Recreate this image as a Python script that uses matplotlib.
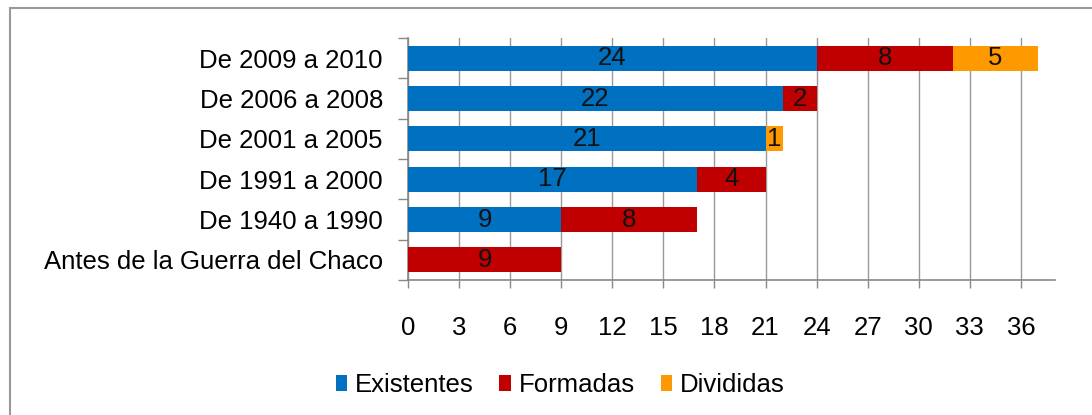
import numpy as np
import matplotlib
matplotlib.use("Agg")
import matplotlib.pyplot as plt
from matplotlib.patches import Rectangle

plt.rcParams['font.family'] = ['Liberation Sans', 'DejaVu Sans']

periodos = ['De 2009 a 2010', 'De 2006 a 2008', 'De 2001 a 2005',
            'De 1991 a 2000', 'De 1940 a 1990', 'Antes de la Guerra del Chaco']
existentes = [24, 22, 21, 17, 9, 0]
formadas = [8, 2, 0, 4, 8, 9]
divididas = [5, 0, 1, 0, 0, 0]
x_ticks = list(range(0, 37, 3))

series = [('Existentes', existentes, '#0070C0'),
          ('Formadas', formadas, '#C00000'),
          ('Divididas', divididas, '#FF9900')]

FS = 18.5

fig = plt.figure(figsize=(10.92, 4.15), dpi=100)
ax = fig.add_axes([0.3736, 0.3253, 0.5925, 0.583])

y = np.arange(len(periodos))
left = np.zeros(len(periodos))
for name, vals, color in series:
    vals = np.array(vals)
    bars = ax.barh(y, vals, left=left, height=0.62, color=color, label=name, zorder=3)
    ax.bar_label(bars, labels=[str(v) if v else '' for v in vals],
                 label_type='center', fontsize=FS, color='#111111')
    left += vals

ax.set_xlim(0, 38)
ax.set_ylim(len(periodos) - 0.5, -0.5)
ax.set_xticks(x_ticks)
ax.set_yticks(y)
ax.set_yticklabels(periodos)
ax.set_yticks(np.arange(-0.5, len(periodos)), minor=True)

ax.tick_params(axis='x', labelsize=FS, length=6, width=1, color='#888888', pad=20)
ax.tick_params(axis='y', which='major', labelsize=FS, length=0, pad=18)
ax.tick_params(axis='y', which='minor', length=7, width=1, color='#888888')

ax.grid(axis='x', color='#999999', linewidth=1, zorder=0)
for s in ['top', 'right']:
    ax.spines[s].set_visible(False)
for s in ['left', 'bottom']:
    ax.spines[s].set_color('#888888')
    ax.spines[s].set_linewidth(1.2)

fig.legend(loc='center', bbox_to_anchor=(0.513, 0.072), ncol=3, frameon=False,
           fontsize=FS, handlelength=0.45, handleheight=0.6, handletextpad=0.3,
           columnspacing=1.0)

# outer chart frame
fig.patches.append(Rectangle((0.0092, -0.1), 1.05, 1.081, transform=fig.transFigure,
                             fill=False, edgecolor='#999999', linewidth=1.5))

fig.savefig('out.png', dpi=100)
